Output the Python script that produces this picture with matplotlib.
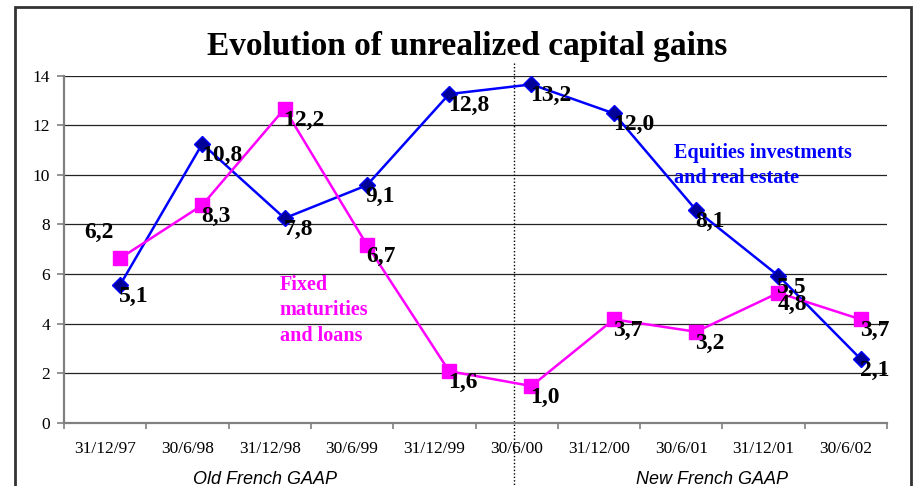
import matplotlib
matplotlib.use("Agg")
import matplotlib.pyplot as plt
from matplotlib.patches import Rectangle

# --- data ---
periods = ["31/12/97", "30/6/98", "31/12/98", "30/6/99", "31/12/99",
           "30/6/00", "31/12/00", "30/6/01", "31/12/01", "30/6/02"]
equities = [5.55, 11.25, 8.25, 9.58, 13.26, 13.65, 12.48, 8.58, 5.93, 2.57]
equities_labels = ["5,1", "10,8", "7,8", "9,1", "12,8", "13,2", "12,0", "8,1", "5,5", "2,1"]
fixed = [6.63, 8.78, 12.67, 7.18, 2.08, 1.48, 4.17, 3.67, 5.24, 4.17]
fixed_labels = ["6,2", "8,3", "12,2", "6,7", "1,6", "1,0", "3,7", "3,2", "4,8", "3,7"]

SERIF = "Liberation Serif"
SANS = "Liberation Sans"

fig = plt.figure(figsize=(9.14, 4.86), dpi=100)
ax = fig.add_axes([0.0700, 0.1302, 0.9005, 0.7140])

n = len(periods)
xs = [i + 0.68 for i in range(n)]

ax.set_xlim(0, n)
ax.set_ylim(0, 14)
ax.set_yticks(range(0, 15, 2))
ax.yaxis.grid(True, color="#222222", lw=0.9)
ax.set_axisbelow(True)

for s in ["top", "right"]:
    ax.spines[s].set_visible(False)
for s in ["left", "bottom"]:
    ax.spines[s].set_color("#808080")
    ax.spines[s].set_linewidth(1.6)

ax.set_xticks(range(n + 1))
ax.set_xticklabels([])
ax.set_xticks([i + 0.5 for i in range(n)], minor=True)
ax.set_xticklabels(periods, minor=True, fontfamily=SERIF, fontsize=12.5)
ax.tick_params(axis="x", which="major", length=4, width=1.2, color="#808080", direction="out")
ax.tick_params(axis="x", which="minor", length=0, pad=13)
ax.tick_params(axis="y", length=5, width=1.2, color="#808080", pad=5)
for t in ax.get_yticklabels():
    t.set_fontfamily(SERIF)
    t.set_fontsize(12.5)

ax.plot(xs, equities, color="#0000FF", lw=1.8, marker="D", ms=8,
        mfc="#000099", mec="#0000FF", mew=1, zorder=3)
ax.plot(xs, fixed, color="#FF00FF", lw=1.8, marker="s", ms=10,
        mfc="#FF00FF", mec="#FF00FF", zorder=3)

for x, y, lab in zip(xs, equities, equities_labels):
    ax.annotate(lab, (x, y), xytext=(-1, -1), textcoords="offset pixels",
                ha="left", va="top", fontfamily=SERIF, fontweight="bold",
                fontsize=17, zorder=4)
for i, (x, y, lab) in enumerate(zip(xs, fixed, fixed_labels)):
    off = (-36, 36) if i == 0 else (-1, -1)
    ax.annotate(lab, (x, y), xytext=off, textcoords="offset pixels",
                ha="left", va="top", fontfamily=SERIF, fontweight="bold",
                fontsize=17, zorder=4)

ax.text(7.41, 11.28, "Equities investments\nand real estate", color="#0000FF",
        fontfamily=SERIF, fontweight="bold", fontsize=14.5, va="top",
        ha="left", linespacing=1.35)
ax.text(2.62, 5.95, "Fixed\nmaturities\nand loans", color="#FF00FF",
        fontfamily=SERIF, fontweight="bold", fontsize=14.5, va="top",
        ha="left", linespacing=1.35)

# split between the two accounting standards
ax.plot([5.47, 5.47], [14.5, -2.7], color="black", lw=1, ls=(0, (1, 1.5)),
        clip_on=False, zorder=2)

fig.text(265 / 914, 0.004, "Old French GAAP", fontfamily=SANS, style="italic",
         fontsize=13, ha="center", va="baseline")
fig.text(712 / 914, 0.004, "New French GAAP", fontfamily=SANS, style="italic",
         fontsize=13, ha="center", va="baseline")

fig.text(467 / 914, 0.8868, "Evolution of unrealized capital gains",
         fontfamily=SERIF, fontweight="bold", fontsize=24, ha="center",
         va="baseline")

fig.patches.append(Rectangle((15 / 914, -0.05), 896 / 914, 0.9856 + 0.05,
                             transform=fig.transFigure, fill=False,
                             ec="#333333", lw=2))

fig.savefig("out.png", dpi=100)
